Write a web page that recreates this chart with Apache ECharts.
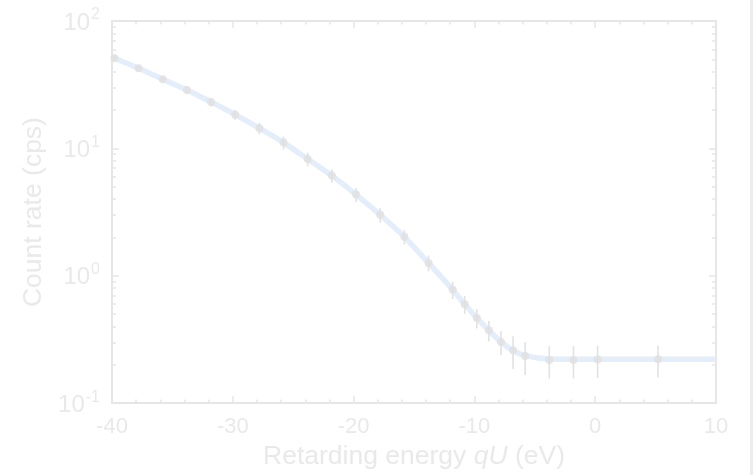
<!DOCTYPE html>
<html>
<head>
<meta charset="utf-8">
<script src="https://cdn.jsdelivr.net/npm/echarts@6/dist/echarts.min.js"></script>
<style>
html,body{margin:0;padding:0;background:#fff;}
#c{width:754px;height:475px;}
</style>
</head>
<body>
<div id="c"></div>
<script>
// Data
const energy = [-39.8, -37.8, -35.8, -33.8, -31.8, -29.8, -27.8, -25.8, -23.8, -21.8, -19.8, -17.8, -15.8, -13.8, -11.8, -10.8, -9.8, -8.8, -7.8, -6.8, -5.8, -3.8, -1.8, 0.2, 5.2];
const rate   = [51.3, 42.6, 34.9, 28.7, 23.1, 18.4, 14.4, 11.1, 8.26, 6.11, 4.34, 3.01, 2.02, 1.26, 0.776, 0.598, 0.465, 0.373, 0.302, 0.260, 0.234, 0.218, 0.218, 0.220, 0.221];
const rateErr= [2.5, 2.2, 2.0, 2.0, 1.8, 1.6, 1.5, 1.3, 1.0, 0.75, 0.55, 0.4, 0.26, 0.18, 0.12, 0.095, 0.08, 0.068, 0.065, 0.075, 0.068, 0.062, 0.062, 0.062, 0.062];
const fitX = [-40, -37.8, -35.8, -33.8, -31.8, -29.8, -27.8, -25.8, -23.8, -21.8, -19.8, -17.8, -15.8, -13.8, -11.8, -10.8, -9.8, -8.8, -7.8, -6.8, -5.8, -3.8, -1.8, 0.2, 5.2, 10];
const fitY = [52.0, 42.6, 34.9, 28.7, 23.1, 18.4, 14.4, 11.1, 8.26, 6.11, 4.34, 3.01, 2.02, 1.26, 0.776, 0.598, 0.465, 0.373, 0.302, 0.258, 0.236, 0.222, 0.221, 0.221, 0.221, 0.221];
const xTicks = [-40, -30, -20, -10, 0, 10];
const yMajor = [0.1, 1, 10, 100];
const yMinor = [0.2,0.3,0.4,0.5,0.6,0.7,0.8,0.9,2,3,4,5,6,7,8,9,20,30,40,50,60,70,80,90];

const FONT = "'Liberation Sans', Arial, Helvetica, sans-serif";
const TXT = '#e9e9e9';
const AX = '#e6e6e6';

const chart = echarts.init(document.getElementById('c'), null, {renderer: 'canvas'});

function supLabel(v) {
  const e = Math.round(Math.log10(v));
  return '{b|10}{s|' + e + '}';
}

const yBase = {type: 'log', logBase: 10, min: 0.1, max: 100, splitLine: {show: false}};
const xBase = {type: 'value', min: -40, max: 10, interval: 10, splitLine: {show: false}};

const option = {
  backgroundColor: '#ffffff',
  animation: false,
  grid: {left: 112, right: 38, top: 21, bottom: 71, containLabel: false},
  xAxis: [
    Object.assign({}, xBase, {
      position: 'bottom',
      axisLine: {show: true, onZero: false, lineStyle: {color: AX, width: 2}},
      axisTick: {show: true, inside: true, length: 7, lineStyle: {color: AX, width: 1.5}},
      minorTick: {show: true, splitNumber: 5, length: 3.5, lineStyle: {color: AX, width: 1.5}},
      axisLabel: {color: TXT, fontSize: 22, fontFamily: FONT, margin: 13},
      name: 'Retarding energy {i|qU} (eV)',
      nameLocation: 'middle',
      nameGap: 38,
      nameTextStyle: {color: TXT, fontSize: 26.5, fontFamily: FONT,
        rich: {i: {fontStyle: 'italic', color: TXT, fontSize: 26.5, fontFamily: FONT}}}
    }),
    Object.assign({}, xBase, {
      position: 'top',
      axisLine: {show: true, onZero: false, lineStyle: {color: AX, width: 2}},
      axisTick: {show: true, inside: true, length: 7, lineStyle: {color: AX, width: 1.5}},
      minorTick: {show: true, splitNumber: 5, length: 3.5, lineStyle: {color: AX, width: 1.5}},
      axisLabel: {show: false}
    })
  ],
  yAxis: [
    Object.assign({}, yBase, {
      position: 'left',
      axisLine: {show: true, onZero: false, lineStyle: {color: AX, width: 2}},
      axisTick: {show: true, inside: true, length: 7, customValues: yMajor, lineStyle: {color: AX, width: 1.5}},
      axisLabel: {show: true, customValues: yMajor, margin: 12, formatter: supLabel,
        rich: {
          b: {color: TXT, fontSize: 24, fontFamily: FONT, verticalAlign: 'bottom', lineHeight: 28},
          s: {color: TXT, fontSize: 16, fontFamily: FONT, verticalAlign: 'top', lineHeight: 28, padding: [0, 0, 13, 1]}
        }},
      name: 'Count rate (cps)',
      nameLocation: 'middle',
      nameGap: 50,
      nameTextStyle: {color: TXT, fontSize: 26.5, fontFamily: FONT}
    }),
    Object.assign({}, yBase, {
      position: 'left',
      axisLine: {show: false, onZero: false},
      axisTick: {show: true, inside: true, length: 4, customValues: yMinor, lineStyle: {color: AX, width: 1.5}},
      axisLabel: {show: false}
    }),
    Object.assign({}, yBase, {
      position: 'right',
      axisLine: {show: true, onZero: false, lineStyle: {color: AX, width: 2}},
      axisTick: {show: true, inside: true, length: 7, customValues: yMajor, lineStyle: {color: AX, width: 1.5}},
      axisLabel: {show: false}
    }),
    Object.assign({}, yBase, {
      position: 'right',
      axisLine: {show: false, onZero: false},
      axisTick: {show: true, inside: true, length: 4, customValues: yMinor, lineStyle: {color: AX, width: 1.5}},
      axisLabel: {show: false}
    })
  ],
  graphic: [{
    type: 'rect', shape: {x: 750, y: 0, width: 3, height: 475},
    style: {fill: '#ededed'}, silent: true
  }],
  series: [
    {
      type: 'line',
      xAxisIndex: 0, yAxisIndex: 0,
      data: fitX.map((x, i) => [x, fitY[i]]),
      smooth: 0.25,
      showSymbol: false,
      lineStyle: {color: '#e4eefa', width: 5.5},
      z: 1
    },
    {
      type: 'custom',
      xAxisIndex: 0, yAxisIndex: 0,
      data: energy.map((x, i) => [x, rate[i] - rateErr[i], rate[i] + rateErr[i]]),
      renderItem: function (params, api) {
        const lo = api.coord([api.value(0), api.value(1)]);
        const hi = api.coord([api.value(0), api.value(2)]);
        return {
          type: 'line',
          shape: {x1: lo[0], y1: lo[1], x2: hi[0], y2: hi[1]},
          style: {stroke: '#e2e2e2', lineWidth: 1.6}
        };
      },
      z: 2
    },
    {
      type: 'scatter',
      xAxisIndex: 0, yAxisIndex: 0,
      data: energy.map((x, i) => [x, rate[i]]),
      symbol: 'circle',
      symbolSize: 8,
      itemStyle: {color: '#e0e0e0'},
      z: 3
    }
  ]
};
chart.setOption(option);
</script>
</body>
</html>
